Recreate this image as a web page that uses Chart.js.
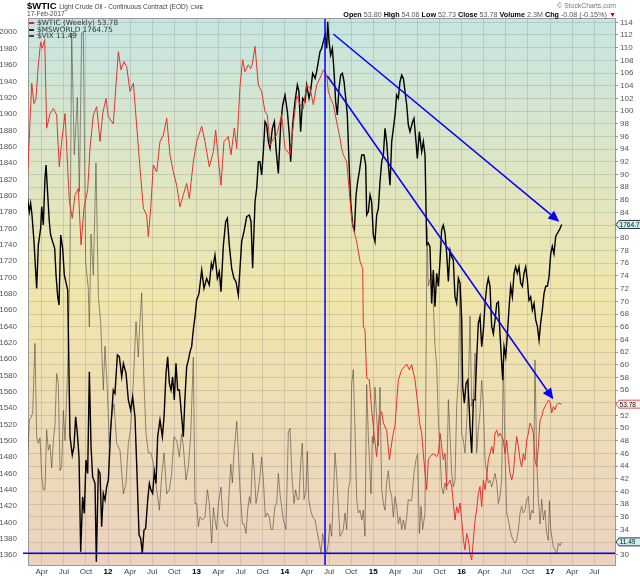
<!DOCTYPE html>
<html>
<head>
<meta charset="utf-8">
<script src="https://cdn.jsdelivr.net/npm/chart.js@4.4.1/dist/chart.umd.min.js"></script>
<style>
  body { margin: 0; background: #fff; }
  #wrap { position: relative; width: 640px; height: 576px; }
  canvas { position: absolute; left: 0; top: 0; }
  .t { position: absolute; font-family: "Liberation Sans", Arial, sans-serif; white-space: nowrap; color: #333; line-height: 1; }
  .lg { position: absolute; left: 29px; font-family: "DejaVu Sans", sans-serif; font-size: 7.3px; color: #333; white-space: nowrap; line-height: 1; }
  .lg i { display: inline-block; width: 5px; height: 1.5px; vertical-align: middle; margin-right: 3px; }
</style>
</head>
<body>
<div id="wrap">
  <canvas id="chart" width="640" height="576"></canvas>
  <div class="t" style="left:27px;top:1px;font-size:9.5px;"><b style="color:#000">$WTIC</b> <span style="font-size:6.5px;color:#444">Light Crude Oil - Continuous Contract (EOD)</span> <span style="font-size:5.8px;color:#444">CME</span></div>
  <div class="t" style="left:27px;top:11px;font-size:6.6px;color:#444">17-Feb-2017</div>
  <div class="t" style="right:24px;top:3px;font-size:6.8px;color:#777">&#169; StockCharts.com</div>
  <div class="t" style="right:24px;top:11px;font-size:7.2px;color:#555"><b style="color:#000">Open</b> 53.80 <b style="color:#000">High</b> 54.06 <b style="color:#000">Low</b> 52.73 <b style="color:#000">Close</b> 53.78 <b style="color:#000">Volume</b> 2.3M <b style="color:#000">Chg</b> -0.08 (-0.15%) <span style="color:#c00">&#9660;</span></div>
  <div class="lg" style="top:19px"><i style="background:#e02020"></i>$WTIC (Weekly) 53.78</div>
  <div class="lg" style="top:26px"><i style="background:#222"></i>$MSWORLD 1764.75</div>
  <div class="lg" style="top:32px"><i style="background:#444"></i>$VIX 11.49</div>
</div>
<script>
// [année décimale, valeur]
const wticPoints = [
  [2011.087,88.6],[2011.137,104.4],[2011.163,101.2],[2011.185,101.9],[2011.212,107.3],[2011.238,110.9],[2011.257,109.9],[2011.284,111.3],
  [2011.306,97.3],[2011.344,99.6],[2011.382,100.4],[2011.419,99.4],[2011.449,91.2],[2011.476,95.2],[2011.514,99.6],[2011.563,85.7],
  [2011.596,83.1],[2011.627,86.8],[2011.664,87.8],[2011.695,78.9],[2011.728,84.7],[2011.770,87.6],[2011.796,94.1],[2011.834,99.4],
  [2011.872,100.7],[2011.910,95.2],[2011.940,99.6],[2011.977,102.0],[2012.004,99.1],[2012.060,98.0],[2012.117,109.4],[2012.147,106.5],
  [2012.181,107.8],[2012.211,107.0],[2012.249,103.1],[2012.287,104.4],[2012.305,101.2],[2012.362,91.0],[2012.400,84.7],[2012.437,83.6],
  [2012.456,80.2],[2012.483,84.7],[2012.513,91.5],[2012.551,90.4],[2012.588,95.2],[2012.626,96.2],[2012.664,98.9],[2012.701,93.1],
  [2012.739,90.4],[2012.777,88.3],[2012.814,84.9],[2012.852,86.8],[2012.890,88.6],[2012.920,86.2],[2012.965,92.0],[2013.003,95.2],
  [2013.060,97.6],[2013.097,95.2],[2013.146,91.2],[2013.192,93.6],[2013.218,97.0],[2013.248,92.5],[2013.278,88.3],[2013.312,95.2],
  [2013.361,96.0],[2013.391,93.1],[2013.429,97.3],[2013.456,94.1],[2013.493,103.9],[2013.523,108.1],[2013.550,106.2],[2013.587,107.3],
  [2013.614,106.7],[2013.633,107.5],[2013.663,110.2],[2013.701,104.1],[2013.738,103.1],[2013.776,99.9],[2013.802,99.4],[2013.833,94.6],
  [2013.870,95.7],[2013.908,96.2],[2013.964,99.4],[2014.002,94.1],[2014.059,93.1],[2014.096,97.8],[2014.134,102.5],[2014.172,101.0],
  [2014.210,100.4],[2014.247,104.1],[2014.285,103.6],[2014.323,101.0],[2014.360,104.1],[2014.398,105.2],[2014.436,106.5],[2014.474,105.7],
  [2014.492,103.1],[2014.519,102.0],[2014.549,101.0],[2014.587,98.3],[2014.624,95.7],[2014.643,94.1],[2014.662,93.1],[2014.700,92.0],
  [2014.756,83.1],[2014.775,81.5],[2014.813,79.4],[2014.851,76.3],[2014.881,75.2],[2014.888,66.0],[2014.907,65.5],[2014.926,57.9],
  [2014.956,57.6],[2014.982,52.9],[2015.013,48.7],[2015.039,45.5],[2015.069,51.8],[2015.096,52.6],[2015.115,50.8],[2015.152,49.7],
  [2015.183,45.0],[2015.220,48.7],[2015.247,50.5],[2015.284,57.6],[2015.322,59.2],[2015.379,60.1],[2015.409,59.2],[2015.435,60.0],
  [2015.473,57.6],[2015.499,54.4],[2015.529,50.5],[2015.548,49.2],[2015.567,46.0],[2015.586,42.9],[2015.605,40.3],[2015.623,45.0],
  [2015.642,45.5],[2015.680,46.0],[2015.718,45.5],[2015.737,46.0],[2015.756,49.2],[2015.774,47.1],[2015.793,45.0],[2015.812,46.0],
  [2015.831,40.8],[2015.850,41.3],[2015.869,41.8],[2015.888,40.8],[2015.906,38.2],[2015.925,35.5],[2015.944,37.6],[2015.963,36.6],
  [2015.982,38.2],[2016.001,35.5],[2016.020,32.4],[2016.038,30.8],[2016.057,33.4],[2016.076,32.4],[2016.095,30.3],[2016.114,29.2],
  [2016.133,32.4],[2016.152,35.5],[2016.170,37.1],[2016.189,39.7],[2016.208,40.8],[2016.227,37.6],[2016.246,41.8],[2016.265,40.3],
  [2016.284,42.4],[2016.302,45.0],[2016.321,46.0],[2016.340,47.1],[2016.359,46.0],[2016.378,49.2],[2016.397,49.7],[2016.416,48.7],
  [2016.434,49.2],[2016.453,48.7],[2016.472,48.1],[2016.491,46.0],[2016.510,48.1],[2016.529,45.0],[2016.548,42.9],[2016.566,41.8],
  [2016.585,42.9],[2016.604,46.0],[2016.623,48.7],[2016.642,47.1],[2016.661,45.0],[2016.679,43.9],[2016.698,46.0],[2016.717,45.0],
  [2016.736,48.1],[2016.755,49.2],[2016.774,50.8],[2016.793,50.2],[2016.811,49.2],[2016.830,45.0],[2016.849,43.9],[2016.868,47.1],
  [2016.887,51.3],[2016.906,51.8],[2016.925,52.9],[2016.943,53.4],[2016.962,53.9],[2016.981,54.4],[2017.000,54.2],[2017.019,52.4],
  [2017.038,53.4],[2017.057,52.9],[2017.075,53.7],[2017.094,53.9],[2017.113,53.9],[2017.132,53.78]
];

const msworldPoints = [
  [2011.087,1798.7],[2011.110,1780.4],[2011.125,1790.6],[2011.140,1776.3],[2011.163,1743.6],[2011.182,1706.9],[2011.193,1686.5],[2011.212,1739.5],
  [2011.238,1760.0],[2011.250,1786.5],[2011.268,1764.0],[2011.287,1821.2],[2011.299,1837.5],[2011.314,1808.9],[2011.336,1768.1],[2011.351,1751.8],
  [2011.374,1743.6],[2011.397,1735.5],[2011.412,1702.8],[2011.431,1676.3],[2011.446,1666.1],[2011.465,1751.8],[2011.487,1735.5],[2011.506,1702.8],
  [2011.544,1684.5],[2011.570,1504.9],[2011.596,1482.4],[2011.615,1492.6],[2011.634,1529.3],[2011.653,1508.9],[2011.672,1480.4],[2011.691,1364.0],
  [2011.713,1431.4],[2011.732,1411.0],[2011.751,1476.3],[2011.770,1459.9],[2011.789,1584.4],[2011.808,1492.6],[2011.826,1455.9],[2011.853,1447.7],
  [2011.868,1351.8],[2011.891,1464.0],[2011.910,1459.9],[2011.928,1394.7],[2011.947,1435.5],[2011.966,1427.3],[2011.985,1443.6],[2012.004,1451.8],
  [2012.030,1513.0],[2012.060,1562.0],[2012.079,1557.9],[2012.106,1604.9],[2012.128,1602.8],[2012.155,1578.3],[2012.174,1594.7],[2012.204,1582.4],
  [2012.230,1549.8],[2012.256,1537.5],[2012.279,1553.8],[2012.305,1529.3],[2012.324,1472.2],[2012.351,1384.5],[2012.370,1380.4],[2012.388,1362.0],
  [2012.407,1390.6],[2012.426,1392.6],[2012.449,1427.3],[2012.468,1447.7],[2012.486,1439.5],[2012.505,1435.5],[2012.524,1461.9],[2012.543,1447.7],
  [2012.562,1504.9],[2012.588,1525.3],[2012.615,1504.9],[2012.634,1529.3],[2012.656,1582.4],[2012.675,1602.8],[2012.694,1570.2],[2012.713,1562.0],
  [2012.731,1578.3],[2012.750,1549.8],[2012.769,1594.7],[2012.788,1562.0],[2012.807,1562.0],[2012.833,1529.3],[2012.852,1504.9],[2012.871,1553.8],
  [2012.890,1590.6],[2012.909,1598.7],[2012.928,1609.0],[2012.946,1615.1],[2012.965,1635.5],[2012.984,1651.8],[2013.003,1672.2],[2013.029,1680.0],
  [2013.060,1708.9],[2013.086,1686.5],[2013.116,1698.7],[2013.146,1690.6],[2013.169,1717.1],[2013.184,1711.0],[2013.210,1727.3],[2013.237,1698.7],
  [2013.259,1706.9],[2013.278,1682.4],[2013.305,1739.5],[2013.331,1768.1],[2013.350,1772.2],[2013.372,1739.5],[2013.399,1711.0],[2013.425,1698.7],
  [2013.448,1694.6],[2013.474,1678.3],[2013.512,1743.6],[2013.538,1755.9],[2013.569,1774.2],[2013.599,1776.3],[2013.618,1768.1],[2013.636,1711.0],
  [2013.663,1792.6],[2013.682,1808.9],[2013.701,1841.6],[2013.719,1841.6],[2013.738,1825.3],[2013.757,1853.8],[2013.776,1890.6],[2013.795,1886.5],
  [2013.814,1866.1],[2013.833,1857.9],[2013.859,1882.4],[2013.882,1890.6],[2013.900,1857.9],[2013.927,1827.3],[2013.953,1886.5],[2013.976,1911.0],
  [2014.002,1923.2],[2014.029,1902.8],[2014.051,1874.2],[2014.066,1841.6],[2014.089,1886.5],[2014.115,1915.1],[2014.142,1935.5],[2014.160,1927.3],
  [2014.179,1878.3],[2014.202,1919.2],[2014.228,1915.1],[2014.247,1935.5],[2014.274,1919.2],[2014.293,1929.3],[2014.315,1949.8],[2014.342,1943.6],
  [2014.360,1951.8],[2014.379,1964.0],[2014.398,1976.3],[2014.417,1980.4],[2014.436,1988.5],[2014.455,1996.7],[2014.474,1980.4],[2014.485,2013.0],
  [2014.500,1988.5],[2014.519,1972.2],[2014.538,1980.4],[2014.557,1951.8],[2014.575,1915.1],[2014.594,1898.7],[2014.613,1931.4],[2014.632,1947.7],
  [2014.651,1949.8],[2014.670,1939.5],[2014.689,1919.2],[2014.707,1898.7],[2014.726,1841.6],[2014.745,1792.6],[2014.768,1764.0],[2014.787,1757.9],
  [2014.806,1800.8],[2014.824,1817.1],[2014.843,1829.3],[2014.870,1849.8],[2014.896,1849.8],[2014.915,1837.5],[2014.926,1776.3],[2014.945,1780.4],
  [2014.964,1800.8],[2014.982,1792.6],[2015.001,1751.8],[2015.020,1743.6],[2015.039,1776.3],[2015.058,1784.5],[2015.077,1817.1],[2015.096,1841.6],
  [2015.115,1849.8],[2015.133,1882.4],[2015.152,1866.1],[2015.171,1837.5],[2015.190,1812.9],[2015.209,1866.1],[2015.228,1882.4],[2015.247,1898.7],
  [2015.265,1923.2],[2015.284,1919.2],[2015.303,1939.5],[2015.322,1947.7],[2015.341,1943.6],[2015.360,1927.3],[2015.379,1911.0],[2015.397,1886.5],
  [2015.416,1878.3],[2015.446,1890.6],[2015.461,1894.6],[2015.484,1866.1],[2015.499,1845.7],[2015.522,1878.3],[2015.548,1853.8],[2015.567,1866.1],
  [2015.586,1849.8],[2015.605,1740.0],[2015.623,1742.0],[2015.642,1737.5],[2015.661,1668.0],[2015.680,1709.0],[2015.699,1664.0],[2015.718,1705.0],
  [2015.737,1689.0],[2015.756,1721.0],[2015.774,1758.0],[2015.793,1764.0],[2015.812,1754.0],[2015.831,1729.0],[2015.850,1695.0],[2015.869,1733.0],
  [2015.888,1725.0],[2015.906,1721.0],[2015.925,1676.0],[2015.944,1668.0],[2015.963,1699.0],[2015.982,1693.0],[2016.001,1648.0],[2016.012,1566.0],
  [2016.031,1546.0],[2016.050,1570.0],[2016.069,1574.0],[2016.087,1538.0],[2016.095,1517.0],[2016.114,1485.0],[2016.133,1550.0],[2016.152,1550.0],
  [2016.170,1599.0],[2016.189,1644.0],[2016.208,1652.0],[2016.227,1615.0],[2016.246,1635.0],[2016.265,1668.0],[2016.284,1689.0],[2016.302,1699.0],
  [2016.321,1689.0],[2016.340,1640.0],[2016.359,1631.0],[2016.378,1648.0],[2016.397,1668.0],[2016.416,1670.0],[2016.434,1631.0],[2016.453,1595.0],
  [2016.465,1574.0],[2016.480,1615.0],[2016.499,1603.0],[2016.518,1631.0],[2016.540,1668.0],[2016.555,1689.0],[2016.574,1676.0],[2016.593,1705.0],
  [2016.611,1713.0],[2016.630,1705.0],[2016.649,1713.0],[2016.668,1693.0],[2016.687,1689.0],[2016.706,1705.0],[2016.725,1713.0],[2016.743,1697.0],
  [2016.762,1672.0],[2016.781,1676.0],[2016.800,1660.0],[2016.819,1668.0],[2016.838,1648.0],[2016.857,1640.0],[2016.876,1623.0],[2016.894,1644.0],
  [2016.913,1660.0],[2016.932,1680.0],[2016.951,1689.0],[2016.970,1689.0],[2016.989,1701.0],[2017.008,1729.0],[2017.026,1738.0],[2017.045,1729.0],
  [2017.064,1750.0],[2017.083,1754.0],[2017.106,1758.0],[2017.132,1764.75]
];

const vixPoints = [
  [2011.087,17.2],[2011.110,20.4],[2011.129,20.6],[2011.148,20.9],[2011.174,26.0],[2011.193,19.2],[2011.212,18.7],[2011.231,19.1],
  [2011.250,16.3],[2011.268,15.3],[2011.287,15.3],[2011.306,19.7],[2011.325,18.2],[2011.344,18.6],[2011.363,16.9],[2011.382,18.9],
  [2011.400,20.0],[2011.419,23.8],[2011.438,23.1],[2011.457,16.7],[2011.476,17.0],[2011.495,21.1],[2011.514,18.9],[2011.543,24.0],
  [2011.570,32.0],[2011.589,48.7],[2011.619,39.8],[2011.653,44.0],[2011.676,37.1],[2011.702,48.7],[2011.721,48.8],[2011.747,32.0],
  [2011.777,30.0],[2011.789,27.2],[2011.808,34.0],[2011.834,31.0],[2011.864,39.2],[2011.891,29.5],[2011.917,27.5],[2011.947,22.6],
  [2011.966,25.8],[2011.992,22.6],[2012.015,18.7],[2012.041,20.6],[2012.068,21.6],[2012.098,18.7],[2012.136,18.2],[2012.174,15.0],
  [2012.204,15.8],[2012.230,18.7],[2012.256,19.7],[2012.287,23.3],[2012.317,27.6],[2012.343,25.0],[2012.362,27.7],[2012.381,29.7],
  [2012.407,23.1],[2012.430,19.4],[2012.456,18.0],[2012.486,18.0],[2012.513,17.2],[2012.551,15.3],[2012.581,13.8],[2012.607,16.3],
  [2012.634,18.0],[2012.664,15.0],[2012.694,15.3],[2012.720,16.5],[2012.747,19.2],[2012.777,18.9],[2012.807,17.7],[2012.833,19.4],
  [2012.852,18.5],[2012.882,16.0],[2012.909,17.0],[2012.935,19.2],[2012.965,25.0],[2012.984,14.3],[2013.003,14.3],[2013.022,12.6],
  [2013.041,13.3],[2013.071,13.1],[2013.097,13.3],[2013.124,15.3],[2013.146,14.3],[2013.173,11.4],[2013.192,14.0],[2013.210,13.1],
  [2013.229,12.4],[2013.248,14.3],[2013.278,15.5],[2013.297,13.3],[2013.323,12.8],[2013.350,12.6],[2013.372,15.3],[2013.388,17.2],
  [2013.407,15.8],[2013.425,18.0],[2013.456,20.3],[2013.474,18.2],[2013.493,15.3],[2013.520,12.8],[2013.538,12.8],[2013.561,12.1],
  [2013.580,13.8],[2013.599,14.8],[2013.614,14.3],[2013.636,18.0],[2013.655,16.7],[2013.674,14.3],[2013.701,15.3],[2013.719,16.3],
  [2013.738,17.7],[2013.757,16.0],[2013.780,13.3],[2013.802,13.6],[2013.825,13.3],[2013.844,12.4],[2013.863,12.4],[2013.889,14.1],
  [2013.908,14.3],[2013.927,16.5],[2013.946,15.0],[2013.964,14.1],[2013.983,13.1],[2014.013,12.4],[2014.040,19.5],[2014.059,19.8],
  [2014.081,16.3],[2014.104,14.3],[2014.123,15.3],[2014.142,14.6],[2014.160,14.6],[2014.179,17.2],[2014.198,18.7],[2014.217,14.6],
  [2014.240,15.3],[2014.255,18.1],[2014.270,14.6],[2014.293,13.8],[2014.315,13.3],[2014.342,13.1],[2014.360,12.4],[2014.391,11.4],
  [2014.409,10.7],[2014.428,12.1],[2014.455,10.9],[2014.474,10.7],[2014.492,11.4],[2014.511,12.8],[2014.530,11.9],[2014.549,15.0],
  [2014.568,18.0],[2014.587,16.3],[2014.606,14.1],[2014.624,11.9],[2014.643,12.1],[2014.662,12.4],[2014.681,13.6],[2014.700,12.4],
  [2014.719,15.3],[2014.738,16.0],[2014.756,23.0],[2014.775,24.1],[2014.794,19.7],[2014.813,14.6],[2014.832,13.6],[2014.851,13.8],
  [2014.870,13.1],[2014.888,13.8],[2014.907,11.9],[2014.926,23.0],[2014.945,19.2],[2014.964,16.5],[2014.975,15.0],[2014.990,19.2],
  [2015.001,18.7],[2015.020,22.8],[2015.039,20.6],[2015.058,18.5],[2015.077,22.8],[2015.096,15.3],[2015.115,14.3],[2015.133,13.8],
  [2015.152,15.8],[2015.171,16.7],[2015.190,15.3],[2015.209,14.8],[2015.228,13.3],[2015.247,14.8],[2015.265,14.1],[2015.284,12.8],
  [2015.303,13.3],[2015.322,12.4],[2015.341,13.1],[2015.360,12.4],[2015.379,13.3],[2015.397,14.6],[2015.416,14.5],[2015.435,14.5],
  [2015.461,16.5],[2015.484,17.5],[2015.503,17.9],[2015.522,12.1],[2015.541,14.1],[2015.559,12.4],[2015.586,13.6],[2015.608,34.5],
  [2015.623,30.2],[2015.661,31.1],[2015.680,28.9],[2015.699,25.8],[2015.718,24.3],[2015.737,20.4],[2015.756,18.0],[2015.774,15.5],
  [2015.793,15.0],[2015.812,15.8],[2015.831,15.3],[2015.850,21.9],[2015.869,19.2],[2015.888,16.5],[2015.906,15.5],[2015.925,16.0],
  [2015.944,21.4],[2015.963,23.3],[2015.982,30.2],[2016.001,19.4],[2016.020,18.9],[2016.038,18.0],[2016.057,20.2],[2016.076,22.8],
  [2016.095,28.0],[2016.114,21.4],[2016.133,22.1],[2016.152,25.3],[2016.170,18.0],[2016.189,19.7],[2016.208,20.9],[2016.227,23.3],
  [2016.246,21.4],[2016.265,17.5],[2016.284,16.5],[2016.302,15.8],[2016.321,16.0],[2016.340,15.5],[2016.359,16.0],[2016.378,16.5],
  [2016.397,15.8],[2016.416,14.3],[2016.434,14.8],[2016.453,16.0],[2016.472,24.8],[2016.491,18.0],[2016.510,13.6],[2016.529,13.1],
  [2016.548,12.4],[2016.566,11.9],[2016.585,11.6],[2016.604,11.4],[2016.623,11.6],[2016.642,12.4],[2016.661,13.6],[2016.679,14.1],
  [2016.698,13.6],[2016.717,13.8],[2016.736,14.6],[2016.755,14.8],[2016.774,13.1],[2016.793,13.8],[2016.811,13.6],[2016.830,24.8],
  [2016.849,17.5],[2016.868,14.6],[2016.887,12.8],[2016.906,14.6],[2016.925,13.1],[2016.943,13.8],[2016.962,12.1],[2016.981,11.6],
  [2016.993,14.5],[2017.008,12.4],[2017.026,11.6],[2017.038,11.1],[2017.057,10.9],[2017.075,10.6],[2017.094,11.4],[2017.113,11.2],
  [2017.132,11.49]
];

// graduations
const monthNames = ['', 'Apr', 'Jul', 'Oct'];
const leftTicks = { min: 1360, max: 2000, step: 20 };
const rightTicks = { min: 30, max: 114, step: 2 };

// traits bleus (en unités de l'axe droit)
const markerYear = 2014.455;
const supportLevel = 30.27;
const trendArrows = [
  [[2014.549, 112.16], [2017.105, 82.56]],
  [[2014.481, 105.53], [2017.037, 54.55]]
];
const lastValues = { wtic: 53.78, msworld: 1764.75, vix: 11.49 };

const toXY = pts => pts.map(p => ({ x: p[0], y: p[1] }));

const deco = {
  id: 'deco',
  beforeDatasetsDraw(chart) {
    const { ctx, chartArea: a } = chart;
    const g = ctx.createLinearGradient(0, a.top, 0, a.bottom);
    g.addColorStop(0, '#c6e5e2');
    g.addColorStop(0.5, '#f0e6ab');
    g.addColorStop(1, '#ecd2bf');
    ctx.save();
    ctx.globalCompositeOperation = 'destination-over';
    ctx.fillStyle = g;
    ctx.fillRect(a.left, a.top, a.right - a.left, a.bottom - a.top);
    ctx.restore();
  },
  afterDatasetsDraw(chart) {
    const { ctx, chartArea: a, scales } = chart;
    const xs = scales.x, yr = scales.yRight;
    ctx.save();
    ctx.strokeStyle = '#0000ff';
    ctx.fillStyle = '#0000ff';
    ctx.lineWidth = 1.5;
    // ligne verticale
    const vx = xs.getPixelForValue(markerYear);
    ctx.beginPath(); ctx.moveTo(vx, a.top); ctx.lineTo(vx, a.bottom); ctx.stroke();
    // support
    const hy = yr.getPixelForValue(supportLevel);
    ctx.beginPath(); ctx.moveTo(a.left - 5, hy); ctx.lineTo(a.right, hy); ctx.stroke();
    // flèches
    trendArrows.forEach(([p, q]) => {
      const x1 = xs.getPixelForValue(p[0]), y1 = yr.getPixelForValue(p[1]);
      const x2 = xs.getPixelForValue(q[0]), y2 = yr.getPixelForValue(q[1]);
      const ang = Math.atan2(y2 - y1, x2 - x1);
      const len = 11, w = 5;
      const bx = x2 - len * Math.cos(ang), by = y2 - len * Math.sin(ang);
      ctx.beginPath(); ctx.moveTo(x1, y1); ctx.lineTo(bx, by); ctx.stroke();
      ctx.beginPath();
      ctx.moveTo(x2, y2);
      ctx.lineTo(bx + w * Math.sin(ang), by - w * Math.cos(ang));
      ctx.lineTo(bx - w * Math.sin(ang), by + w * Math.cos(ang));
      ctx.closePath(); ctx.fill();
    });
    // bord haut
    ctx.strokeStyle = '#9a9a9a'; ctx.lineWidth = 1;
    ctx.beginPath(); ctx.moveTo(a.left, a.top + 0.5); ctx.lineTo(a.right, a.top + 0.5); ctx.stroke();
    ctx.restore();
  },
  afterDraw(chart) {
    const { ctx, chartArea: a, scales } = chart;
    const tags = [
      { y: scales.yLeft.getPixelForValue(lastValues.msworld), text: lastValues.msworld.toFixed(2), fill: '#c9f1f1', line: '#000' },
      { y: scales.yRight.getPixelForValue(lastValues.wtic), text: lastValues.wtic.toFixed(2), fill: '#fdeeee', line: '#e03030' },
      { y: scales.yVix.getPixelForValue(lastValues.vix), text: lastValues.vix.toFixed(2), fill: '#c9f1f1', line: '#000' }
    ];
    ctx.save();
    ctx.font = '6.6px "Liberation Sans", Arial, sans-serif';
    ctx.textBaseline = 'middle';
    tags.forEach(t => {
      const x0 = a.right + 1, x1 = chart.width + 2, h = 4;
      ctx.beginPath();
      ctx.moveTo(x0, t.y);
      ctx.lineTo(x0 + 3, t.y - h);
      ctx.lineTo(x1, t.y - h);
      ctx.lineTo(x1, t.y + h);
      ctx.lineTo(x0 + 3, t.y + h);
      ctx.closePath();
      ctx.fillStyle = t.fill; ctx.fill();
      ctx.strokeStyle = t.line; ctx.lineWidth = 0.8; ctx.stroke();
      ctx.fillStyle = '#111';
      ctx.fillText(t.text, x0 + 3.5, t.y + 0.5);
    });
    ctx.restore();
  }
};

const tickFont = { family: '"Liberation Sans", Arial, sans-serif', size: 8 };

new Chart(document.getElementById('chart').getContext('2d'), {
  type: 'line',
  data: {
    datasets: [
      { label: '$WTIC (Weekly)', data: toXY(wticPoints), yAxisID: 'yRight', borderColor: '#e8322a', borderWidth: 1 },
      { label: '$MSWORLD', data: toXY(msworldPoints), yAxisID: 'yLeft', borderColor: '#000000', borderWidth: 1.4 },
      { label: '$VIX', data: toXY(vixPoints), yAxisID: 'yVix', borderColor: 'rgba(80,70,60,0.6)', borderWidth: 1 }
    ]
  },
  options: {
    responsive: false,
    animation: false,
    events: [],
    layout: { padding: { top: 18 } },
    elements: { point: { radius: 0 }, line: { tension: 0 } },
    plugins: { legend: { display: false }, tooltip: { enabled: false } },
    scales: {
      x: {
        type: 'linear',
        min: 2011.095,
        max: 2017.735,
        afterFit: s => { s.height = 11; },
        border: { color: '#9a9a9a' },
        grid: { color: 'rgba(140,140,140,0.3)', drawTicks: false },
        ticks: {
          stepSize: 0.25,
          autoSkip: false,
          maxRotation: 0,
          includeBounds: false,
          padding: 2,
          color: ctx => (ctx.tick && Math.abs(ctx.tick.value % 1) < 1e-6 ? '#000' : '#444'),
          font: ctx => ({ ...tickFont, weight: ctx.tick && Math.abs(ctx.tick.value % 1) < 1e-6 ? 'bold' : 'normal' }),
          callback: v => {
            const q = Math.round((v - Math.floor(v)) * 4);
            return q === 0 ? String(Math.round(v)).slice(2) : monthNames[q];
          }
        }
      },
      yLeft: {
        position: 'left',
        min: 1347.8,
        max: 2017.5,
        afterFit: s => { s.width = 28; },
        border: { color: '#9a9a9a' },
        grid: { display: false },
        ticks: {
          stepSize: leftTicks.step,
          autoSkip: false,
          includeBounds: false,
          padding: 3,
          color: '#555',
          font: tickFont,
          callback: v => (v >= leftTicks.min && v <= leftTicks.max ? v : '')
        }
      },
      yRight: {
        position: 'right',
        min: 28.42,
        max: 114.68,
        afterFit: s => { s.width = 25; },
        border: { color: '#9a9a9a' },
        grid: { color: 'rgba(140,140,140,0.3)', tickLength: 3, tickColor: '#999' },
        ticks: {
          stepSize: rightTicks.step,
          autoSkip: false,
          includeBounds: false,
          padding: 2,
          color: '#555',
          font: tickFont,
          callback: v => (v >= rightTicks.min && v <= rightTicks.max ? v : '')
        }
      },
      yVix: { display: false, min: 9.8, max: 49.8 }
    }
  },
  plugins: [deco]
});
</script>
</body>
</html>
